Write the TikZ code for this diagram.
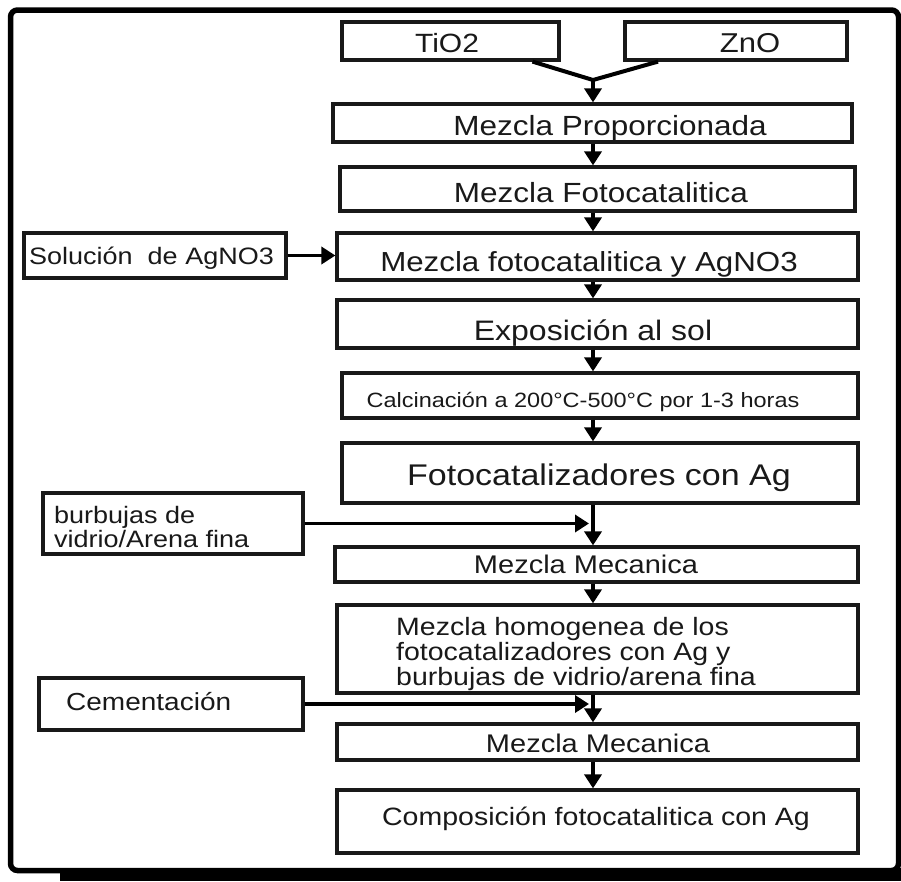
\documentclass[tikz,border=0pt]{standalone}
\usepackage{fontspec}
\setmainfont{Liberation Sans}
\usetikzlibrary{arrows.meta}
% squashed text, a little lower than wide
\newcommand{\sq}[1]{\scalebox{1}[0.88]{#1}}
\newcommand{\fs}[1]{\fontsize{#1}{#1}\selectfont}
\begin{document}
\begin{tikzpicture}[x=1pt,y=-1pt,
  stepbox/.style={draw=black!90, line width=3.2pt, inner sep=0pt},
  flow/.style={draw=black, line width=3.6pt, -{Triangle[length=14pt,width=17pt]}},
  joint/.style={draw=black, line width=4pt},
  lbl/.style={inner sep=0pt, anchor=base, text=black!90}]
\useasboundingbox (0,0) rectangle (901,881);

% outer frame with its shadow
\fill[black] (60,868) rectangle (901,881);
\draw[line width=5.5pt, rounded corners=7pt] (10.5,10) rectangle (898.5,870.5);

% boxes
\node[stepbox, minimum width=217, minimum height=38] (tio) at (450.5,41) {};
\node[stepbox, minimum width=222, minimum height=38] (zno) at (736,41) {};
\node[stepbox, minimum width=519, minimum height=38] (mp)  at (592.5,123) {};
\node[stepbox, minimum width=515, minimum height=44] (mf)  at (597.5,189) {};
\node[stepbox, minimum width=262, minimum height=45] (sol) at (155,255.5) {};
\node[stepbox, minimum width=521, minimum height=47] (mfa) at (597.5,256.5) {};
\node[stepbox, minimum width=521, minimum height=48] (exp) at (597.5,324) {};
\node[stepbox, minimum width=516, minimum height=45] (cal) at (600,395.5) {};
\node[stepbox, minimum width=516, minimum height=60] (fca) at (600,473) {};
\node[stepbox, minimum width=260, minimum height=61] (bur) at (173,523.5) {};
\node[stepbox, minimum width=523, minimum height=35] (mm1) at (596.5,564.5) {};
\node[stepbox, minimum width=521, minimum height=88] (mh)  at (597.5,649) {};
\node[stepbox, minimum width=264, minimum height=52] (cem) at (171,704) {};
\node[stepbox, minimum width=521, minimum height=36] (mm2) at (597.5,742) {};
\node[stepbox, minimum width=521, minimum height=63] (com) at (597.5,821.5) {};

% texts
\node[lbl, font=\fs{30}]   (tiot) at (447,52)  {\sq{TiO2}};
\node[lbl, font=\fs{31}]   (znot) at (750,52)  {\sq{ZnO}};
\node[lbl, font=\fs{31.5}] (mpt)  at (610,135) {\sq{Mezcla Proporcionada}};
\node[lbl, font=\fs{31.5}] (mft)  at (601,202) {\sq{Mezcla Fotocatalitica}};
\node[lbl, anchor=base west, font=\fs{27}] (solt) at (29,264) {\sq{Solución\ \ de AgNO3}};
\node[lbl, font=\fs{31.3}] (mfat) at (589,271) {\sq{Mezcla fotocatalitica y AgNO3}};
\node[lbl, font=\fs{32}]   (expt) at (593,340) {\sq{Exposición al sol}};
\node[lbl, font=\fs{23.5}] (calt) at (583,407) {\sq{Calcinación a 200°C-500°C por 1-3 horas}};
\node[lbl, font=\fs{34}]   (fcat) at (599,485) {\sq{Fotocatalizadores con Ag}};
\node[lbl, anchor=north west, font={\fontsize{27}{27}\selectfont}] (burt) at (54,506)
  {\sq{\begin{tabular}{@{}l@{}}burbujas de\\ vidrio/Arena fina\end{tabular}}};
\node[lbl, font=\fs{29}]   (mm1t) at (586,573) {\sq{Mezcla Mecanica}};
\node[lbl, anchor=north west, font={\fontsize{28.5}{27}\selectfont}] (mht) at (396,617)
  {\sq{\begin{tabular}{@{}l@{}}Mezcla homogenea de los\\ fotocatalizadores con Ag y\\ burbujas de vidrio/arena fina\end{tabular}}};
\node[lbl, anchor=base west, font=\fs{28}] (cemt) at (66,710) {\sq{Cementación}};
\node[lbl, font=\fs{29}]   (mm2t) at (598,752) {\sq{Mezcla Mecanica}};
\node[lbl, font=\fs{28.5}] (comt) at (596,825) {\sq{Composición fotocatalitica con Ag}};

% connectors
\coordinate (j) at (593,80);
\draw[joint, line join=miter] ([xshift=82pt]tio.south) -- (j) -- ([xshift=-78pt]zno.south);
\draw[flow] (j) -- (mp.north -| j);
\draw[flow] (mp.south -| j) -- (mf.north -| j);
\draw[flow] (mf.south -| j) -- (mfa.north -| j);
\draw[flow] (sol.east) -- (mfa.west |- sol.east);
\draw[flow] (mfa.south -| j) -- (exp.north -| j);
\draw[flow] (exp.south -| j) -- (cal.north -| j);
\draw[flow] (cal.south -| j) -- (fca.north -| j);
\draw[flow] (fca.south -| j) -- (mm1.north -| j);
\draw[flow] (bur.east) -- ([xshift=-4pt]bur.east -| j);
\draw[flow] (mm1.south -| j) -- (mh.north -| j);
\draw[flow] (mh.south -| j) -- (mm2.north -| j);
\draw[flow] (cem.east) -- ([xshift=-4pt]cem.east -| j);
\draw[flow] (mm2.south -| j) -- (com.north -| j);
\end{tikzpicture}
\end{document}
